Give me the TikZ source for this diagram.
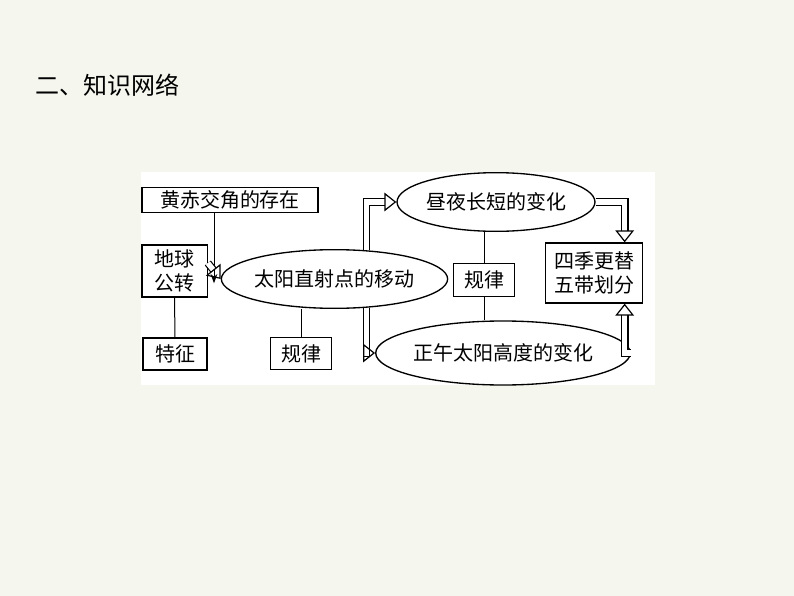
\documentclass[tikz,border=0pt]{standalone}
\usepackage{fontspec}
\setmainfont{Noto Sans CJK SC}
\usetikzlibrary{arrows.meta,calc,shapes.geometric}
\definecolor{pagebg}{RGB}{245,247,239}
\tikzset{every picture/.style={line width=0.75pt},
  box/.style={draw, line width=1pt, font=\fontsize{15}{18}\selectfont, inner sep=1.5pt, align=center},
  oval/.style={draw, line width=1pt, ellipse, font=\fontsize{15}{18}\selectfont, inner sep=0pt},
  hollow/.style={double, double distance=4pt, line width=0.9pt, -{Triangle[open, length=9pt, width=14pt]}}}

\begin{document}
\begin{tikzpicture}[x=0.75pt,y=0.75pt,yscale=-1,xscale=1]
\fill[pagebg] (0,0) rectangle (794,596);
\useasboundingbox (0,0) rectangle (794,596);
\fill[white] (141,172) rectangle (655,385);

% Title
\node (title) [anchor=west, font=\fontsize{18}{22}\selectfont] at (31,85) {二、知识网络};

% Boxes
\node (huang) [box, minimum width=132pt, minimum height=19pt] at (230,200) {黄赤交角的存在};
\node (earth) [box, minimum width=49pt, minimum height=39pt] at (174.5,271) {地球\\公转};
\node (trait) [box, minimum width=48pt, minimum height=24pt] at (175,354) {特征};
\node (rule1) [box, minimum width=46pt, minimum height=24pt] at (301,353.5) {规律};
\node (rule2) [box, minimum width=46pt, minimum height=25pt] at (484,280) {规律};
\node (season) [box, minimum width=73pt, minimum height=45pt] at (594,273) {四季更替\\五带划分};

% Ellipses
\node (sun) [oval, minimum width=153pt, minimum height=44pt] at (334.5,279) {太阳直射点的移动};
\node (day) [oval, minimum width=146pt, minimum height=44pt] at (496,202) {昼夜长短的变化};
\node (noon) [oval, minimum width=163pt, minimum height=48pt] at (503,353) {正午太阳高度的变化};

% Connectors
\draw (earth.south) -- (trait.north);
\draw (rule1.north) -- (rule1.north |- sun.south);
\draw (rule2.north) -- (rule2.north |- day.south);
\draw (rule2.south) -- (rule2.south |- noon.north);
\draw [-{Stealth[length=7pt,width=5pt]}] ([xshift=-12pt]huang.south) -- ++(0,70);

% Hollow arrows
\draw [hollow] ([yshift=-6pt]earth.east) -- (sun.west);
\draw [hollow] (sun.42) |- (day.west);
\draw [hollow] (sun.-42) |- (noon.west);
\draw [hollow] (day.east) -| ([xshift=-14pt]season.north east);
\draw [hollow] (noon.east) -| ([xshift=-14pt]season.south east);

\end{tikzpicture}
\end{document}
